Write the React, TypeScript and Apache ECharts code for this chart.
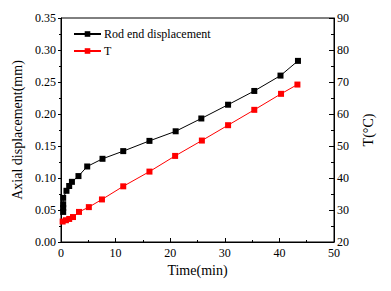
import React, { useEffect, useRef } from "react";
import * as echarts from "echarts";

const dispTime = [0.4, 0.4, 0.4, 0.4, 1.0, 1.5, 2.0, 3.2, 4.8, 7.6, 11.4, 16.2, 21.0, 25.7, 30.6, 35.4, 40.2, 43.4];
const dispValues = [0.047, 0.053, 0.059, 0.069, 0.080, 0.0875, 0.094, 0.103, 0.118, 0.130, 0.142, 0.158, 0.173, 0.193, 0.2145, 0.236, 0.260, 0.283];
const tempTime = [0.3, 0.9, 1.5, 2.2, 3.3, 5.1, 7.5, 11.4, 16.2, 20.9, 25.8, 30.6, 35.4, 40.3, 43.3];
const tempValues = [26.4, 26.8, 27.2, 27.8, 29.4, 30.9, 33.3, 37.4, 42.0, 46.9, 51.7, 56.5, 61.3, 66.3, 69.2];
const seriesNames = ["Rod end displacement", "T"];

const FONT = "'Liberation Serif', 'Times New Roman', serif";

export default function App() {
  const ref = useRef<HTMLDivElement>(null);
  useEffect(() => {
    if (!ref.current) return;
    const chart = echarts.init(ref.current, null, { renderer: "svg" });
    const axisCommon = {
      axisLine: { show: true, lineStyle: { color: "#000", width: 1 } },
      splitLine: { show: false },
      axisLabel: { color: "#000", fontFamily: FONT, fontSize: 12 },
      nameTextStyle: { color: "#000", fontFamily: FONT, fontSize: 14 },
      minorTick: { show: true, splitNumber: 2, length: 2, lineStyle: { color: "#000" } },
    };
    chart.setOption({
      animation: false,
      backgroundColor: "#fff",
      grid: { left: 61, top: 18, width: 273, height: 224, show: true, borderColor: "#000", borderWidth: 1, backgroundColor: "transparent" },
      legend: {
        orient: "vertical",
        left: 73,
        top: 28,
        padding: 0,
        itemWidth: 27,
        itemHeight: 7,
        itemGap: 5,
        textStyle: { color: "#000", fontFamily: FONT, fontSize: 12, padding: [0, 0, 0, -2] },
        data: seriesNames,
      },
      xAxis: {
        type: "value",
        min: 0,
        max: 50,
        interval: 10,
        name: "Time(min)",
        nameLocation: "middle",
        nameGap: 18,
        ...axisCommon,
        axisTick: { show: true, inside: true, length: 4, lineStyle: { color: "#000" } },
        axisLabel: { ...axisCommon.axisLabel, margin: 5 },
      },
      yAxis: [
        {
          type: "value",
          min: 0,
          max: 0.35,
          interval: 0.05,
          name: "Axial displacement(mm)",
          nameLocation: "middle",
          nameRotate: 90,
          nameGap: 32,
          ...axisCommon,
          axisTick: { show: true, inside: false, length: 3, lineStyle: { color: "#000" } },
          axisLabel: { ...axisCommon.axisLabel, margin: 5, formatter: (v: number) => v.toFixed(2) },
        },
        {
          type: "value",
          position: "right",
          min: 20,
          max: 90,
          interval: 10,
          name: "T(\u00b0C)",
          nameLocation: "middle",
          nameRotate: 90,
          nameGap: 27,
          ...axisCommon,
          axisTick: { show: true, inside: true, length: 5, lineStyle: { color: "#000" } },
          minorTick: { show: true, splitNumber: 2, length: 3, lineStyle: { color: "#000" } },
          axisLabel: { ...axisCommon.axisLabel, margin: 3 },
        },
      ],
      series: [
        {
          name: seriesNames[0],
          type: "line",
          yAxisIndex: 0,
          symbol: "rect",
          symbolSize: 6,
          color: "#000",
          lineStyle: { color: "#000", width: 1 },
          itemStyle: { color: "#000" },
          data: dispTime.map((t, i) => [t, dispValues[i]]),
        },
        {
          name: seriesNames[1],
          type: "line",
          yAxisIndex: 1,
          symbol: "rect",
          symbolSize: 6,
          color: "#ff0000",
          lineStyle: { color: "#ff0000", width: 1 },
          itemStyle: { color: "#ff0000" },
          data: tempTime.map((t, i) => [t, tempValues[i]]),
        },
      ],
    });
    return () => chart.dispose();
  }, []);
  return <div ref={ref} style={{ width: 391, height: 291, position: "absolute", left: 0, top: 0 }} />;
}
